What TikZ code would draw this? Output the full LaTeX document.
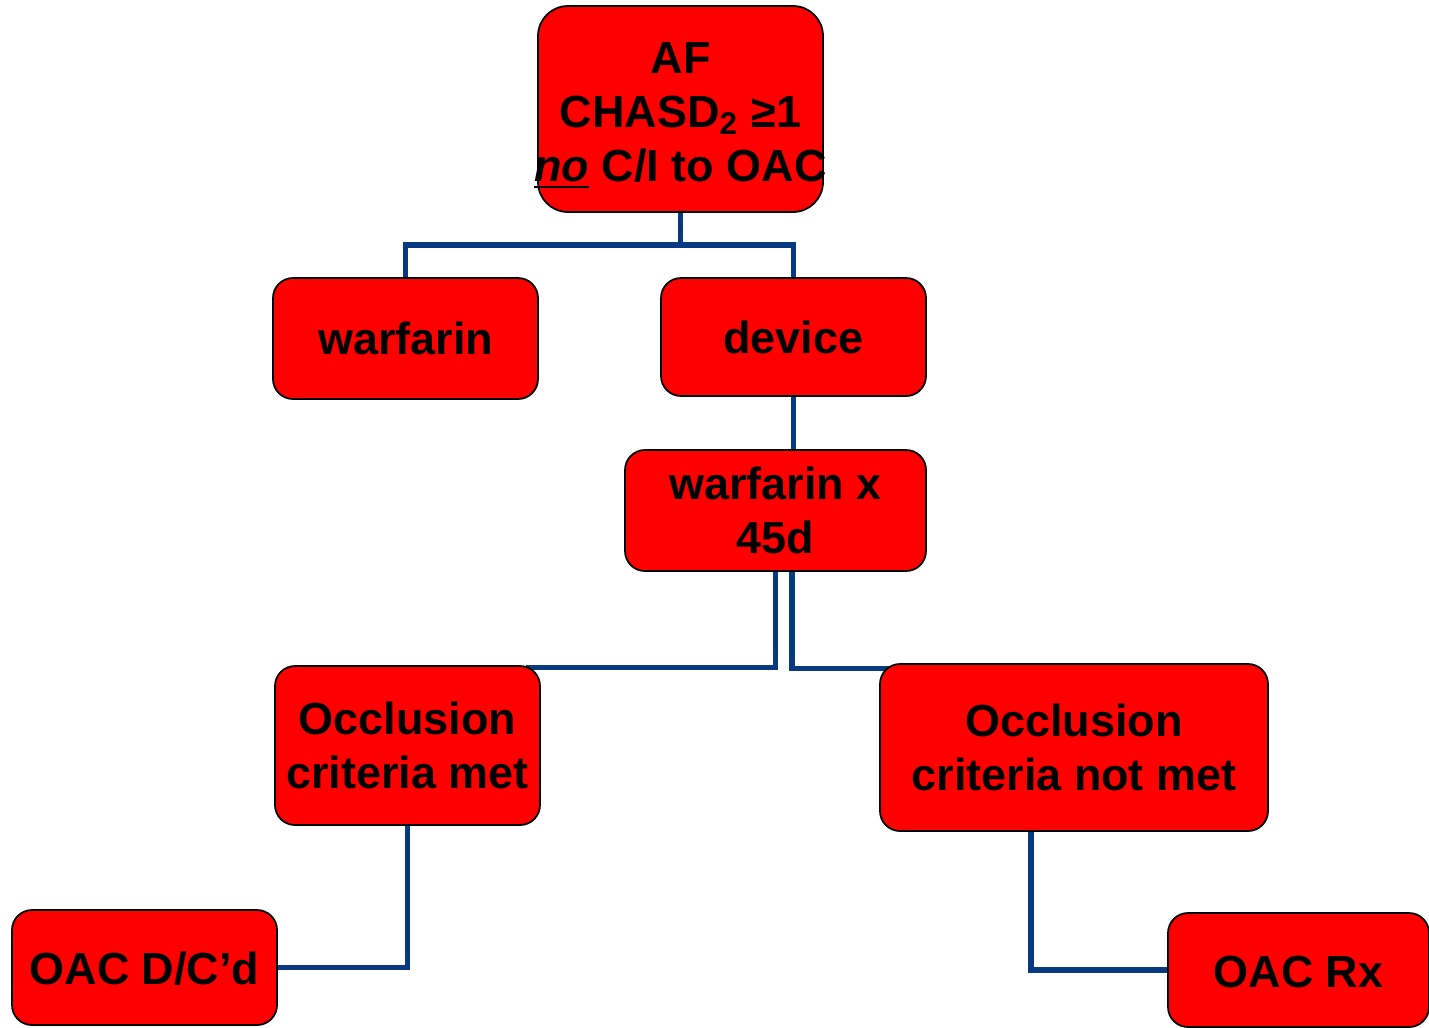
\documentclass[tikz,border=0pt]{standalone}
\usepackage{fontspec}
\setmainfont{Liberation Sans}
\usepackage{xcolor}
\usepackage{tikz}
\usetikzlibrary{backgrounds}
\definecolor{linkblue}{HTML}{073A80}

\begin{document}
\begin{tikzpicture}[
  every node/.style={font=\fontsize{12.8}{15.4}\selectfont\bfseries},
  box/.style={draw=black, line width=0.5pt, fill=red, rounded corners=2mm,
              align=center, inner sep=0pt},
  link/.style={draw=linkblue, line width=1.5pt}
]
  \useasboundingbox (0,0) rectangle (14.29,-10.27);
  % Nodes
  \node[box, rounded corners=3mm, minimum width=2.85cm, minimum height=2.06cm]
    (af) at (6.805,-1.09) {\rule{0pt}{12.6pt}AF\\CHASD\textsubscript{2} ≥1\\\makebox[0pt]{\underline{\textit{no}} C/I to OAC}};
  \node[box, minimum width=2.65cm, minimum height=1.21cm] (warf) at (4.055,-3.385) {warfarin};
  \node[box, minimum width=2.65cm, minimum height=1.18cm] (dev)  at (7.935,-3.37) {device};
  \node[box, minimum width=3.01cm, minimum height=1.21cm] (warf45) at (7.755,-5.105) {warfarin x\\45d};
  \node[box, minimum width=2.65cm, minimum height=1.59cm] (met) at (4.075,-7.455) {Occlusion\\criteria met};
  \node[box, minimum width=3.88cm, minimum height=1.67cm] (notmet) at (10.74,-7.475) {Occlusion\\criteria not met};
  \node[box, minimum width=2.65cm, minimum height=1.15cm] (dc) at (1.445,-9.675) {\rule{0pt}{10pt}OAC D/C’d};
  \node[box, minimum width=2.61cm, minimum height=1.14cm] (rx) at (12.985,-9.70) {\rule{0pt}{10pt}OAC Rx};
  \coordinate (split) at (6.805,-2.45);
  % Links
  \begin{scope}[on background layer]
    \draw[link] (af.south) -- (split) -| (warf.north);
    \draw[link] (split) -| (dev.north);
    \draw[link] (dev.south) -- (dev.south |- warf45.north);
    \draw[link] (warf45.south) |- ([xshift=-1.5mm,yshift=-0.2mm]met.north east);
    \draw[link] ([xshift=1.65mm]warf45.south) |- ([xshift=1.5mm,yshift=-0.5mm]notmet.north west);
    \draw[link] (met.south) |- (dc.east);
    \draw[link] ([xshift=-4.3mm]notmet.south) |- (rx.west);
  \end{scope}
\end{tikzpicture}
\end{document}
